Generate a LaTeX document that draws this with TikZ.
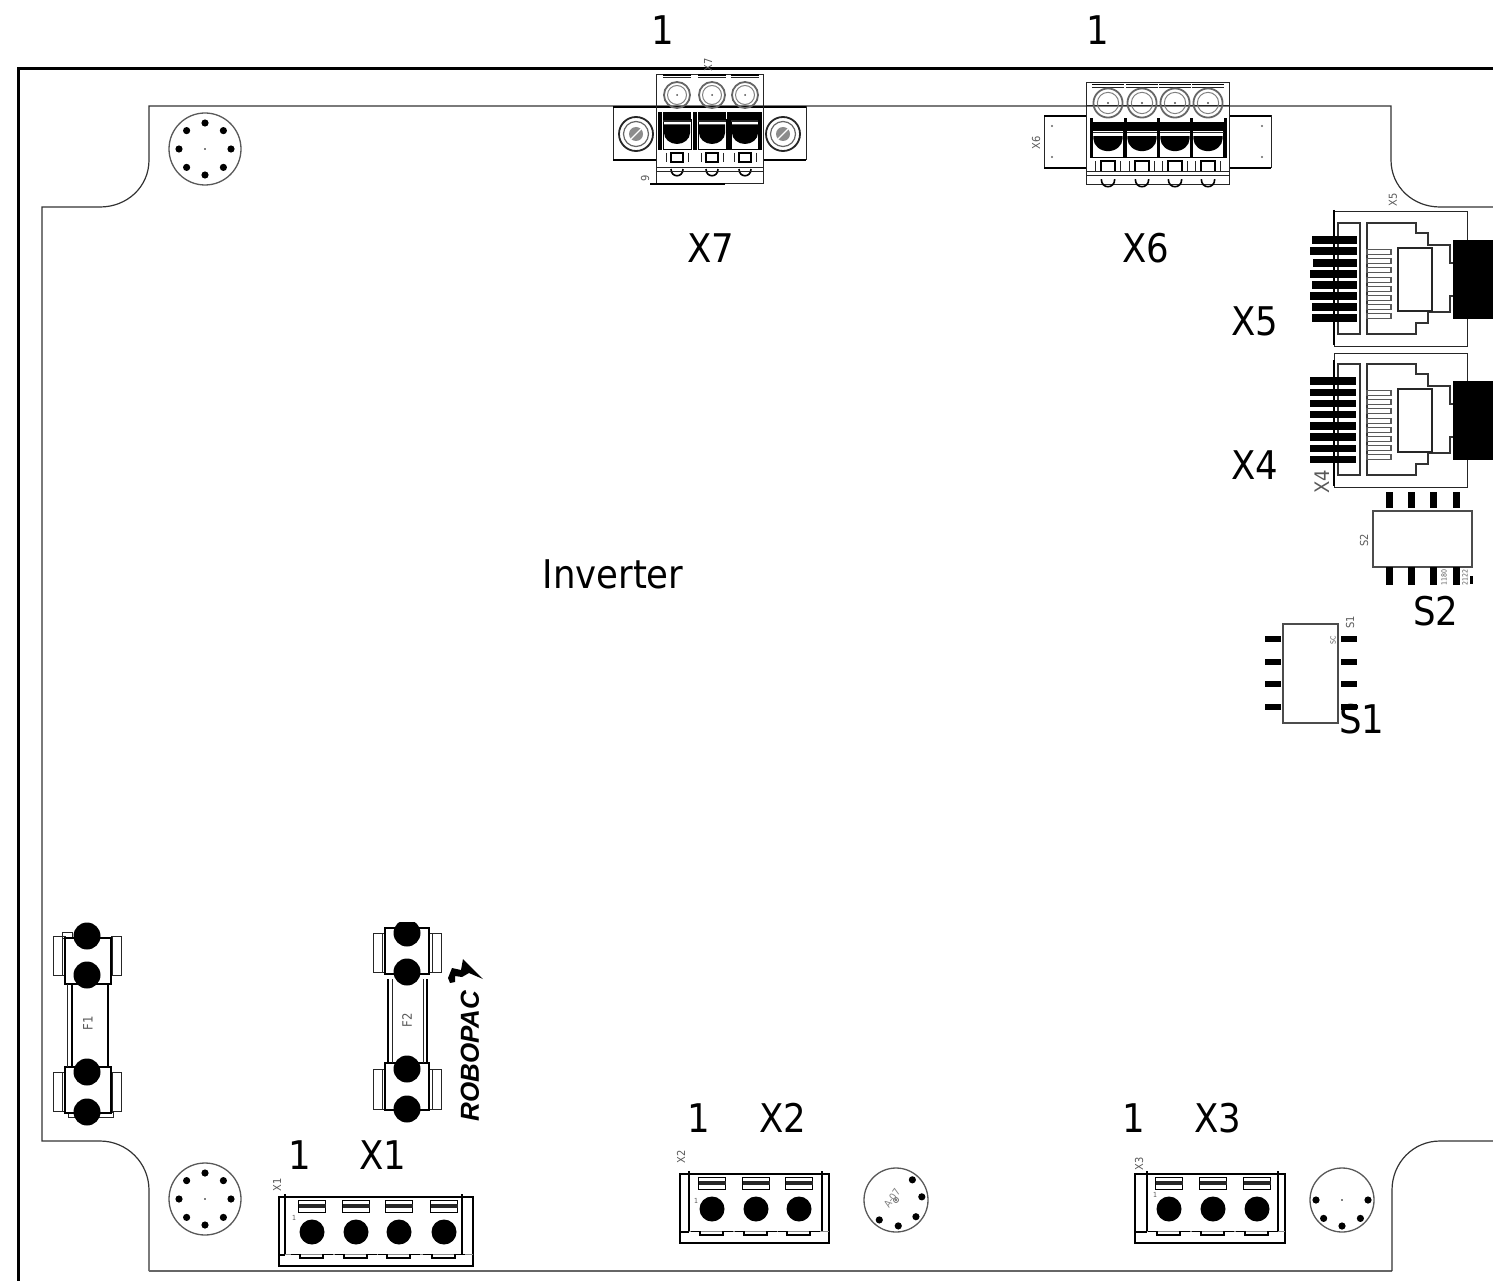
\documentclass[tikz,border=0pt]{standalone}
\usepackage{fontspec}
\setmainfont{DejaVu Sans Condensed}
\newfontfamily\logofont[BoldFeatures={FakeBold=1.6}]{Liberation Sans}
\tikzset{
  biglbl/.style={font=\fontsize{39.5}{39.5}\selectfont,inner sep=0pt,text=black},
  smalllbl/.style={font=\fontsize{11}{11}\selectfont,inner sep=0pt,rotate=90,text=black!65},
  tinylbl/.style={font=\fontsize{7}{7}\selectfont,inner sep=0pt,rotate=90,text=black!65},
  thinline/.style={line width=1pt,draw=black!85},
  midline/.style={line width=1.6pt,draw=black},
  heavy/.style={line width=3pt,draw=black},
  greyline/.style={line width=1pt,draw=black!45}
}
% screw-terminal cell: origin at dome centre; #3 bar offset, #4 box bottom
\newcommand{\termcell}[4]{%
 \begin{scope}[shift={(#1,#2)}]
  \draw[midline] (-14,#3) -- (14,#3);
  \draw[thinline] (-14,#3+2.5) -- (14,#3+2.5);
  \draw[line width=1.8pt,draw=black!60] (0,0) circle[radius=13pt];
  \draw[line width=1pt,draw=black!50] (0,0) circle[radius=9.5pt];
  \fill[black!70] (0,0) circle[radius=1pt];
  \fill[black] (-14,17) rectangle (14,24);
  \draw[line width=1pt,draw=black,fill=white] (-14,24.5) rectangle (14,#4);
  \fill[black!85] (-14,25.5) rectangle (14,27);
  \fill[black] (-13,29.5) -- (13,29.5) -- (13,#4-17) .. controls (13,#4-11) and (7,#4-6) .. (0,#4-6) .. controls (-7,#4-6) and (-13,#4-11) .. (-13,#4-17) -- cycle;
  \draw[midline] (-6,#4+3) rectangle (6,#4+12);
  \draw[thinline] (-11,#4+3) -- (-11,#4+12) (11,#4+3) -- (11,#4+12);
  \draw[midline] (-6,#4+19) .. controls (-6,#4+28) and (6,#4+28) .. (6,#4+19);
 \end{scope}}
% RJ45 jack, #1 = vertical offset
\newcommand{\rjjack}[1]{%
 \begin{scope}[yshift=-#1pt]
  \draw[thinline] (1334,212) rectangle (1467,346);
  \draw[midline,draw=black!80] (1338,223) rectangle (1360,334);
  \draw[midline,draw=black!80] (1454,263) -- (1450,263) -- (1450,245) -- (1428,245) -- (1428,233) -- (1416,233) -- (1416,223) -- (1367,223) -- (1367,334) -- (1416,334) -- (1416,323) -- (1428,323) -- (1428,312) -- (1450,312) -- (1450,296) -- (1454,296);
  \foreach \yy in {252,261,270,280,289,298,307,316}{
    \draw[line width=1.2pt,draw=black!65] (1367,\yy-2.5) rectangle (1391,\yy+2.5);}
  \draw[midline,draw=black!85] (1398,248) rectangle (1432,311);
  \fill[black] (1453,240) rectangle (1493,319);
 \end{scope}}
% mounting standoff with dots given as angles
\newcommand{\standoff}[4]{%
 \begin{scope}[shift={(#1,#2)}]
  \draw[line width=1.3pt,draw=black!65] (0,0) circle[radius=#3pt];
  \foreach \aa in {#4}{\fill[black] (\aa:26) circle[radius=3.6pt];}
  \fill[black] (0,0) circle[radius=0.8pt];
 \end{scope}}
% bottom connector
\newcommand{\plugconn}[7]{%
 \begin{scope}[yshift=-#3pt]
  \draw[midline] (#1,0) rectangle (#2,69);
  \draw[midline] (#4,-3) -- (#4,58) (#5,-3) -- (#5,58);
  \draw[greyline] (#1,57) -- (#2,57);
  \draw[midline] (#1,58) -- (#4,58);
  \foreach \cc in {#6}{
    \draw[line width=1.4pt,draw=black] (\cc-21,57.5) -- (\cc-12,57.5) -- (\cc-12,61) -- (\cc+11,61) -- (\cc+11,57.5) -- (\cc+21,57.5);
    \draw[midline,fill=white] (\cc-#7,3.5) rectangle (\cc+#7,15.5);
    \fill[black!85] (\cc-#7,7) rectangle (\cc+#7,11);
    \fill[black] (\cc,35) circle[radius=12.5pt];
  }
 \end{scope}}
% fuse holder
\newcommand{\fuseblock}[7]{%
  \draw[thinline] (#1,#4) rectangle (#3,#5);
  \draw[thinline] (#6,#4) rectangle (#7,#5);
  \draw[thinline] (#1+9,#4) -- (#1+9,#5) (#7-9,#4) -- (#7-9,#5);
  \draw[midline,fill=white] (#3,#2) rectangle (#6,#2+#5-#4+7);
}
\begin{document}
\begin{tikzpicture}[x=1pt,y=-1pt]
\useasboundingbox (0,0) rectangle (1493,1281);
% frame
\draw[heavy] (18,1281) -- (18,69) -- (1493,69);
% board outline
\draw[line width=1.2pt,draw=black!80] (1493,207) -- (1440,207) .. controls (1413,207) and (1391,187) .. (1391,160) -- (1391,106) -- (149,106) -- (149,160) .. controls (149,187) and (127,207) .. (100,207) -- (42,207) -- (42,1141) -- (100,1141) .. controls (127,1141) and (149,1163) .. (149,1190) -- (149,1271);
\draw[line width=2pt,draw=black!60] (149,1271) -- (1392,1271);
\draw[line width=1.2pt,draw=black!80] (1392,1271) -- (1392,1190) .. controls (1392,1163) and (1413,1141) .. (1440,1141) -- (1493,1141);

% standoffs
\standoff{205}{149}{36}{0,45,90,135,180,225,270,315}
\standoff{205}{1199}{36}{0,45,90,135,180,225,270,315}
\standoff{896}{1200}{32}{-51,-7,40,85,130}
\standoff{1342}{1200}{32}{0,45,90,135,180}
\draw[line width=0.8pt,draw=black!60] (896,1200) circle[radius=2.5pt];
\node[inner sep=0pt,rotate=55,font=\fontsize{10}{10}\selectfont,text=black!50] (a07) at (892,1198) {A-07};

% X7
\fill[white] (613,107) rectangle (806,160);
\draw[thinline] (613,107) rectangle (656,160);
\draw[thinline] (763,107) rectangle (806,160);
\draw[midline] (613,107) -- (806,107) (613,160) -- (656,160) (763,160) -- (806,160);
\draw[thinline] (656,75) rectangle (763,184);
\foreach \xx in {677,712,745}{\termcell{\xx}{95}{-20}{55}}
\foreach \xx in {660,694.5,729,760}{\fill[black] (\xx-2,112) rectangle (\xx+2,150);}
\draw[thinline] (656,168) -- (763,168) (656,172) -- (763,172);
\draw[midline] (650,184) -- (725,184);
\foreach \xx in {636,783}{
  \draw[line width=1.8pt,draw=black!85] (\xx,134) circle[radius=17pt];
  \draw[line width=1.2pt,draw=black!60] (\xx,134) circle[radius=12.5pt];
  \fill[black!45] (\xx,134) circle[radius=7pt];
  \draw[line width=1.2pt,white] (\xx-5,139) -- (\xx+5,129);
}
\node[smalllbl] (x7tag) at (708,65) {X7};
\node[smalllbl] (ninetag) at (645,178) {9};

% X6
\fill[white] (1044,116) rectangle (1271,168);
\draw[thinline] (1044,116) rectangle (1086,168);
\draw[thinline] (1229,116) rectangle (1271,168);
\draw[heavy,line width=2pt] (1044,116) -- (1086,116) (1044,168) -- (1086,168) (1229,116) -- (1271,116) (1229,168) -- (1271,168);
\foreach \xx in {1052,1262}{\fill[black!60] (\xx,126) circle[radius=1.2pt] (\xx,157) circle[radius=1.2pt];}
\draw[thinline] (1086,83) rectangle (1229,185);
\draw[line width=1pt,draw=black!85] (1086,106) -- (1229,106);
\foreach \xx in {1108,1142,1175,1208}{
  \begin{scope}[shift={(\xx,103)},scale=1.12,shift={(-\xx,-103)}]\termcell{\xx}{103}{-16.5}{49}\end{scope}}
\foreach \xx in {1091,1125,1158.5,1191.5,1225}{\fill[black] (\xx-1.5,118) rectangle (\xx+1.5,158);}
\draw[thinline] (1086,172) -- (1229,172) (1086,176) -- (1229,176);
\node[smalllbl] (x6tag) at (1036,143) {X6};

% X5, X4
\rjjack{0}
\rjjack{141}
\foreach \yy/\ll in {240/1312,251/1310,263/1313,274/1310,285/1312,296/1310,307/1312,318/1312}{
  \fill[black] (\ll,\yy-3.7) rectangle (1357,\yy+3.7);}
\foreach \yy in {381,392.2,403.4,414.6,425.8,437,448.2,459.4}{
  \fill[black] (1310,\yy-3.7) rectangle (1356,\yy+3.7);}
\draw[midline] (1334,210) -- (1334,345) (1334,360) -- (1334,486);
\node[smalllbl] (x5tag) at (1393,200) {X5};
\node[smalllbl,font=\fontsize{20}{20}\selectfont] (x4tag) at (1322,482) {X4};

% S2
\draw[midline,draw=black!70] (1373,511) rectangle (1472,567);
\foreach \xx in {1389,1411,1433,1456}{
  \fill[black] (\xx-3.5,492) rectangle (\xx+3.5,508);
  \fill[black] (\xx-3.5,567) rectangle (\xx+3.5,585);}
\node[smalllbl] (s2tag) at (1364,540) {S2};
\node[tinylbl] (s2code) at (1444,577) {1180};
\node[tinylbl] (s2codeb) at (1465,577) {2122};
\fill[black] (1470,576) rectangle (1472.5,584);

% S1
\draw[midline,draw=black!70] (1283,624) rectangle (1338,723);
\foreach \yy in {639,662,684,707}{
  \fill[black] (1265,\yy-3) rectangle (1281,\yy+3);
  \fill[black] (1341,\yy-3) rectangle (1357,\yy+3);}
\node[smalllbl] (s1tag) at (1350,622) {S1};
\node[tinylbl] (s1code) at (1333,640) {SC};

% F1
\draw[thinline] (62,932) rectangle (72,938) (68,1112) rectangle (113,1117);
\fuseblock{53}{938}{65}{936}{975}{111}{121}
\fuseblock{53}{1067}{65}{1072}{1111}{111}{121}
\draw[midline] (108,984) -- (108,1067) (72,984) -- (72,1067);
\draw[thinline] (67,984) -- (67,1067);
\foreach \yy in {936,975,1072,1112}{\fill[black] (87,\yy) circle[radius=13.5pt];}
\node[smalllbl,font=\fontsize{13}{13}\selectfont] (f1tag) at (88,1023) {F1};

% F2
\fuseblock{373}{928}{385}{933}{972}{429}{441}
\fuseblock{373}{1063}{385}{1069}{1109}{429}{441}
\draw[midline] (388,979) -- (388,1063) (427,979) -- (427,1063);
\draw[thinline] (392,979) -- (392,1063) (423,979) -- (423,1063);
\begin{scope}
 \clip (360,922) rectangle (450,1130);
 \foreach \yy in {933,972,1069,1109}{\fill[black] (407,\yy) circle[radius=13.5pt];}
\end{scope}
\node[smalllbl,font=\fontsize{13}{13}\selectfont] (f2tag) at (407,1020) {F2};

% logo
\node[rotate=90,inner sep=0pt,font=\logofont\bfseries\itshape\fontsize{26}{26}\selectfont] (logo) at (470,1056) {ROBOPAC};
\fill[black] (463,959) -- (483,979) -- (469,973) -- (462,977) -- (455,976) -- (455,982) -- (450,983) -- (448,978) -- (452,968) -- (461,970) -- cycle;

% bottom connectors
\plugconn{279}{473}{1197}{285}{462}{312,356,399,444}{13.5}
\plugconn{680}{829}{1174}{689}{822}{712,756,799}{13.5}
\plugconn{1135}{1285}{1174}{1147}{1278}{1169,1213,1257}{13.5}
\node[smalllbl] (x1tag) at (277,1185) {X1};
\node[smalllbl] (x2tag) at (681,1157) {X2};
\node[smalllbl] (x3tag) at (1139,1164) {X3};
\node[tinylbl,rotate=-90] (pinone) at (294,1218) {1};
\node[tinylbl,rotate=-90] (pintwo) at (696,1201) {1};
\node[tinylbl,rotate=-90] (pinthree) at (1155,1195) {1};

% big labels
\node[biglbl] (one7) at (663,30) {1};
\node[biglbl] (one6) at (1098,30) {1};
\node[biglbl] (lx7) at (711,248) {X7};
\node[biglbl] (lx6) at (1146,248) {X6};
\node[biglbl] (lx5) at (1255,321) {X5};
\node[biglbl] (lx4) at (1255,465) {X4};
\node[biglbl] (inv) at (613,574) {Inverter};
\node[biglbl] (ls2) at (1436,611) {S2};
\node[biglbl] (ls1) at (1362,719) {S1};
\node[biglbl] (one1) at (300,1155) {1};
\node[biglbl] (lx1) at (383,1155) {X1};
\node[biglbl] (one2) at (699,1118) {1};
\node[biglbl] (lx2) at (783,1118) {X2};
\node[biglbl] (one3) at (1134,1118) {1};
\node[biglbl] (lx3) at (1218,1118) {X3};
\end{tikzpicture}
\end{document}
